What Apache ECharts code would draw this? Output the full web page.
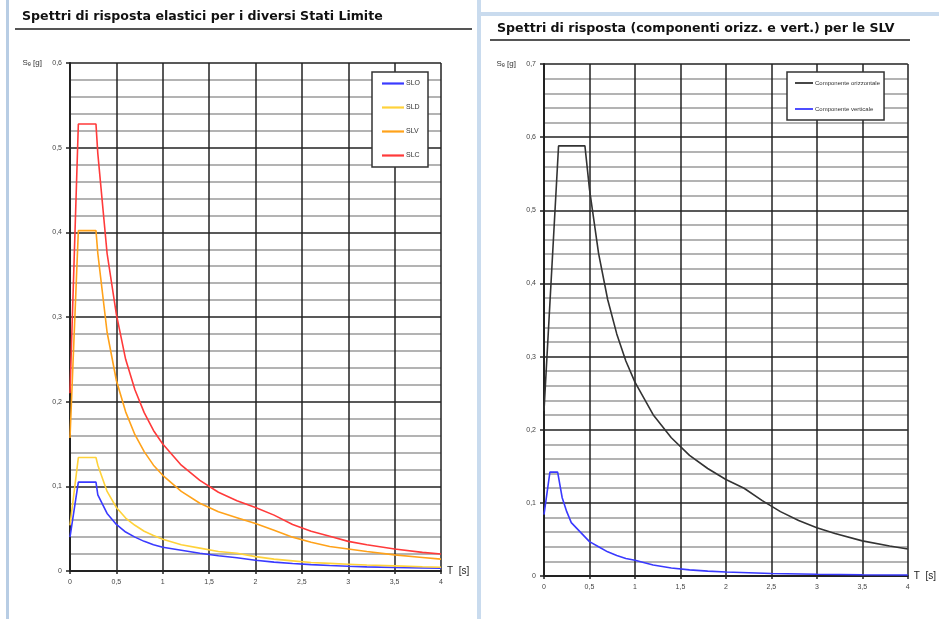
<!DOCTYPE html>
<html><head><meta charset="utf-8">
<script src="https://cdn.jsdelivr.net/npm/echarts@6/dist/echarts.min.js"></script>
<style>html,body{margin:0;padding:0;background:#fff}#c{width:939px;height:619px}</style>
</head><body><div id="c"></div>
<script>
// ---- data ----
const leftTitle = 'Spettri di risposta elastici per i diversi Stati Limite';
const rightTitle = 'Spettri di risposta (componenti orizz. e vert.) per le SLV';
const leftNames = ['SLO', 'SLD', 'SLV', 'SLC'];
const rightNames = ['Componente orizzontale', 'Componente verticale'];
const leftT = [0, 0.09, 0.28, 0.3, 0.4, 0.5, 0.6, 0.7, 0.8, 0.9, 1.0, 1.2, 1.4, 1.6, 1.8, 2.0, 2.2, 2.4, 2.6, 2.8, 3.0, 3.2, 3.5, 3.8, 4.0];
const sloV = [0.040, 0.105, 0.105, 0.090, 0.068, 0.055, 0.046, 0.040, 0.035, 0.031, 0.028, 0.0245, 0.021, 0.018, 0.0156, 0.0127, 0.0105, 0.0088, 0.0075, 0.0065, 0.0056, 0.0049, 0.0041, 0.0035, 0.0032];
const sldV = [0.054, 0.134, 0.134, 0.125, 0.094, 0.075, 0.0625, 0.054, 0.047, 0.042, 0.0375, 0.031, 0.027, 0.023, 0.021, 0.017, 0.014, 0.012, 0.010, 0.009, 0.008, 0.007, 0.006, 0.005, 0.0045];
const slvV = [0.157, 0.402, 0.402, 0.375, 0.282, 0.225, 0.188, 0.161, 0.141, 0.125, 0.113, 0.094, 0.080, 0.070, 0.063, 0.056, 0.048, 0.040, 0.034, 0.029, 0.026, 0.023, 0.019, 0.016, 0.014];
const slcV = [0.210, 0.528, 0.528, 0.493, 0.375, 0.303, 0.250, 0.214, 0.187, 0.166, 0.150, 0.125, 0.107, 0.093, 0.083, 0.075, 0.066, 0.055, 0.047, 0.041, 0.035, 0.031, 0.026, 0.022, 0.020];
const horT = [0, 0.16, 0.45, 0.5, 0.6, 0.7, 0.8, 0.9, 1.0, 1.2, 1.4, 1.6, 1.8, 2.0, 2.2, 2.4, 2.6, 2.8, 3.0, 3.2, 3.5, 3.8, 4.0];
const horV = [0.226, 0.588, 0.588, 0.529, 0.441, 0.378, 0.331, 0.294, 0.265, 0.2205, 0.189, 0.165, 0.147, 0.132, 0.120, 0.103, 0.088, 0.076, 0.066, 0.058, 0.048, 0.041, 0.037];
const verT = [0, 0.065, 0.15, 0.2, 0.25, 0.3, 0.4, 0.5, 0.6, 0.7, 0.8, 0.9, 1.0, 1.2, 1.4, 1.6, 1.8, 2.0, 2.5, 3.0, 3.5, 4.0];
const verV = [0.084, 0.142, 0.142, 0.107, 0.088, 0.073, 0.060, 0.047, 0.040, 0.033, 0.028, 0.024, 0.0215, 0.015, 0.011, 0.0084, 0.0066, 0.0054, 0.0034, 0.0024, 0.0018, 0.0013];

const pairs = (t, v) => t.map((x, i) => [x, v[i]]);
const comma = v => String(+v.toFixed(2)).replace('.', ',');

const font = 'Liberation Sans, Arial, sans-serif';
function xAx(gi) {
  return {
    type: 'value', gridIndex: gi, min: 0, max: 4, interval: 0.5,
    name: 'T  [s]', nameLocation: 'end', nameGap: 6,
    nameTextStyle: { fontSize: 10, color: '#222', fontFamily: font, padding: [14, 0, 0, 0] },
    axisLine: { show: true, lineStyle: { color: '#222', width: 2 } },
    axisTick: { show: true, length: 3, lineStyle: { color: '#222', width: 1.5 } },
    axisLabel: { fontSize: 7, color: '#444', fontFamily: font, margin: 8, formatter: comma },
    splitLine: { show: true, lineStyle: { color: '#222', width: 1.5 } }
  };
}
function yAx(gi, max) {
  return {
    type: 'value', gridIndex: gi, min: 0, max: max, interval: 0.1,
    name: 'S\u2091 [g]', nameLocation: 'end', nameGap: 0,
    nameTextStyle: { fontSize: 8, color: '#333', fontFamily: font, align: 'right', padding: [0, 28, -4, 0] },
    axisLine: { show: true, lineStyle: { color: '#222', width: 2 } },
    axisTick: { show: true, length: 4, lineStyle: { color: '#222', width: 1.5 } },
    axisLabel: { fontSize: 7, color: '#444', fontFamily: font, margin: 8, formatter: comma },
    splitLine: { show: true, lineStyle: { color: '#222', width: 1.5 } },
    minorTick: { show: false, splitNumber: 5 },
    minorSplitLine: { show: true, lineStyle: { color: '#9a9a9a', width: 1.5 } }
  };
}
function ser(name, data, color, xi) {
  return { name, type: 'line', xAxisIndex: xi, yAxisIndex: xi, data, color,
    showSymbol: false, symbol: 'none', lineStyle: { color, width: 1.6 }, animation: false, z: 5 };
}
const titleFont = 'bold 12.6px "DejaVu Sans", Verdana, sans-serif';
const chart = echarts.init(document.getElementById('c'), null, { renderer: 'canvas' });
chart.setOption({
  backgroundColor: '#fff',
  animation: false,
  grid: [
    { left: 70, right: 498, top: 63, bottom: 48 },
    { left: 544, right: 28, top: 64, bottom: 43 }
  ],
  xAxis: [xAx(0), xAx(1)],
  yAxis: [yAx(0, 0.6), yAx(1, 0.7)],
  legend: [
    { data: leftNames, orient: 'vertical', left: 372, top: 72, width: 65, height: 105,
      padding: [8, 8, 8, 10], itemGap: 17, itemWidth: 22, itemHeight: 10,
      backgroundColor: '#fff', borderColor: '#333', borderWidth: 1.5,
      icon: 'path://M0,0 L10,0 L10,1 L0,1 Z',
      textStyle: { fontSize: 7, color: '#333', fontFamily: font, padding: [0, 0, 0, -3] } },
    { data: rightNames, orient: 'vertical', left: 787, top: 72, width: 118, height: 55,
      padding: [8, 4, 8, 8], itemGap: 20, itemWidth: 18, itemHeight: 10,
      backgroundColor: '#fff', borderColor: '#333', borderWidth: 1.5,
      icon: 'path://M0,0 L10,0 L10,1 L0,1 Z',
      textStyle: { fontSize: 6, color: '#333', fontFamily: font, padding: [0, 0, 0, -3] } }
  ],
  series: [
    ser(leftNames[0], pairs(leftT, sloV), '#3a3aff', 0),
    ser(leftNames[1], pairs(leftT, sldV), '#ffd23a', 0),
    ser(leftNames[2], pairs(leftT, slvV), '#ffa21a', 0),
    ser(leftNames[3], pairs(leftT, slcV), '#ff3a3a', 0),
    ser(rightNames[0], pairs(horT, horV), '#333333', 1),
    ser(rightNames[1], pairs(verT, verV), '#3a3aff', 1)
  ],
  graphic: [
    { type: 'rect', shape: { x: 6, y: 0, width: 3, height: 619 }, style: { fill: '#b8cde4' }, silent: true },
    { type: 'rect', shape: { x: 477, y: 0, width: 4, height: 619 }, style: { fill: '#c9dbee' }, silent: true },
    { type: 'rect', shape: { x: 477, y: 12, width: 462, height: 4 }, style: { fill: '#c9dbee' }, silent: true },
    { type: 'text', left: 22, top: 10, style: { text: leftTitle, font: titleFont, fill: '#111' } },
    { type: 'line', shape: { x1: 15, y1: 29, x2: 472, y2: 29 }, style: { stroke: '#555', lineWidth: 2 } },
    { type: 'text', left: 497, top: 22, style: { text: rightTitle, font: titleFont, fill: '#111' } },
    { type: 'line', shape: { x1: 490, y1: 40, x2: 910, y2: 40 }, style: { stroke: '#555', lineWidth: 2 } }
  ]
});
</script>
</body></html>
